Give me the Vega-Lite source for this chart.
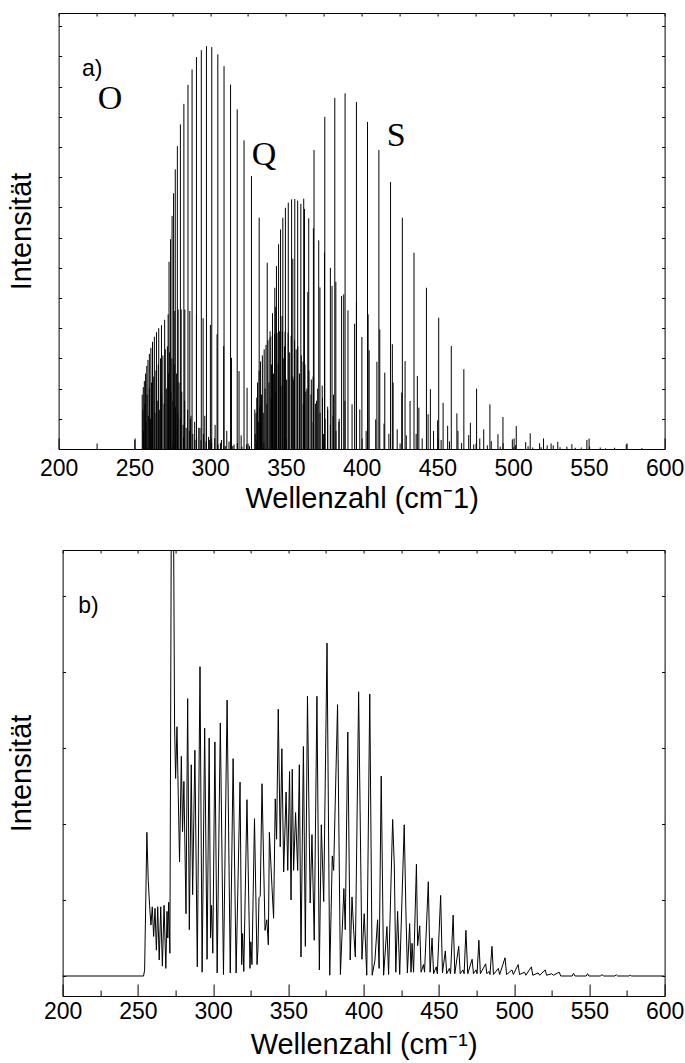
{
"$schema": "https://vega.github.io/schema/vega-lite/v6.json",
"background": "white",
"padding": {"left": 6.6, "top": 12, "right": 0, "bottom": 0},
"bounds": "full",
"spacing": 30,
"datasets": {
"a": [
{"w":250.3,"i":0.3},
{"w":272.9,"i":6.2},{"w":273.9,"i":6.95},{"w":274.9,"i":7.72},{"w":275.9,"i":8.47},{"w":277.0,"i":9.26},{"w":278.4,"i":10.03},{"w":280.4,"i":10.75},{"w":282.7,"i":11.43},{"w":285.4,"i":12.06},{"w":288.1,"i":12.57},{"w":291.0,"i":12.98},{"w":294.2,"i":13.21},{"w":297.6,"i":13.34},{"w":301.1,"i":13.31},{"w":305.1,"i":13.07},{"w":309.2,"i":12.68},{"w":313.5,"i":12.07},{"w":317.9,"i":11.25},{"w":322.4,"i":10.22},{"w":327.3,"i":9.04},{"w":332.4,"i":7.66},{"w":337.7,"i":6.17},{"w":343.3,"i":4.7},{"w":349.1,"i":3.4},{"w":355.2,"i":2.3},{"w":361.5,"i":1.5},{"w":368.0,"i":0.9},{"w":374.8,"i":0.5},
{"w":255.2,"i":1.8},{"w":255.9,"i":2.05},{"w":256.6,"i":2.25},{"w":257.4,"i":2.5},{"w":258.2,"i":2.75},{"w":259.0,"i":2.95},{"w":259.9,"i":3.15},{"w":260.9,"i":3.35},{"w":262.0,"i":3.55},{"w":263.2,"i":3.72},{"w":264.6,"i":3.87},{"w":266.1,"i":4.0},{"w":267.9,"i":4.1},{"w":270.0,"i":4.28},
{"w":272.3,"i":4.46},{"w":276.7,"i":4.57},{"w":278.9,"i":4.62},{"w":280.9,"i":4.62},{"w":283.3,"i":4.62},{"w":286.6,"i":4.57},{"w":291.0,"i":4.46},{"w":295.4,"i":4.33},{"w":300.2,"i":4.11},{"w":304.6,"i":3.8},{"w":309.0,"i":3.41},{"w":314.1,"i":3.02},{"w":319.1,"i":2.58},{"w":324.4,"i":2.03},{"w":329.5,"i":1.31},
{"w":255.6,"i":1.3},{"w":256.1,"i":0.6},{"w":256.9,"i":1.5},{"w":257.7,"i":0.9},{"w":258.4,"i":1.8},{"w":259.2,"i":1.1},{"w":259.9,"i":2.0},{"w":260.6,"i":1.0},{"w":261.3,"i":2.2},{"w":262.0,"i":1.4},{"w":262.8,"i":2.4},{"w":263.6,"i":1.2},{"w":264.3,"i":2.6},{"w":265.1,"i":1.6},{"w":265.8,"i":2.8},{"w":266.5,"i":1.3},{"w":267.3,"i":3.0},{"w":268.0,"i":1.8},{"w":268.8,"i":3.1},{"w":269.6,"i":1.5},{"w":270.4,"i":3.3},{"w":271.1,"i":2.0},{"w":271.8,"i":3.4},{"w":272.6,"i":2.5},{"w":273.3,"i":3.2},{"w":274.1,"i":1.9},{"w":274.8,"i":3.0},{"w":275.5,"i":1.6},{"w":276.3,"i":2.8},{"w":277.1,"i":1.4},{"w":277.9,"i":2.5},{"w":278.7,"i":1.2},{"w":279.5,"i":2.2},{"w":280.4,"i":1.0},{"w":281.3,"i":1.9},{"w":282.2,"i":0.8},{"w":283.2,"i":1.6},{"w":284.2,"i":0.7},{"w":285.2,"i":1.3},{"w":286.3,"i":0.6},{"w":287.4,"i":1.1},{"w":288.6,"i":0.5},{"w":289.8,"i":0.9},{"w":291.1,"i":0.4},{"w":292.5,"i":0.7},{"w":294.0,"i":0.3},{"w":295.6,"i":0.5},{"w":297.3,"i":0.25},{"w":299.0,"i":0.4},{"w":301.0,"i":0.2},{"w":303.0,"i":0.35},{"w":305.2,"i":0.15},{"w":307.5,"i":0.3},{"w":310.0,"i":0.1},{"w":312.5,"i":0.25},{"w":315.0,"i":0.1},{"w":318.0,"i":0.2},{"w":321.0,"i":0.08},{"w":324.0,"i":0.15},
{"w":282.5,"i":0.4},{"w":287.0,"i":1.0},{"w":290.0,"i":0.3},{"w":293.3,"i":0.7},{"w":296.5,"i":1.1},{"w":299.5,"i":0.3},{"w":303.3,"i":0.8},{"w":306.8,"i":0.2},{"w":311.0,"i":0.6},{"w":315.8,"i":0.15},{"w":320.5,"i":0.45},{"w":326.0,"i":0.1},{"w":330.9,"i":0.3},{"w":335.5,"i":0.2},
{"w":329.8,"i":0.5},{"w":330.3,"i":1.2},{"w":330.8,"i":1.7},{"w":331.3,"i":2.2},{"w":331.8,"i":0.9},{"w":332.3,"i":2.6},{"w":332.8,"i":1.4},{"w":333.3,"i":2.9},{"w":333.9,"i":1.8},{"w":334.5,"i":3.1},{"w":335.1,"i":1.2},{"w":335.7,"i":3.3},{"w":336.3,"i":2.0},{"w":336.9,"i":3.45},{"w":337.5,"i":1.5},{"w":338.2,"i":3.6},{"w":338.9,"i":2.2},{"w":339.6,"i":3.7},{"w":340.3,"i":1.7},{"w":341.0,"i":3.75},{"w":341.8,"i":2.5},{"w":342.6,"i":3.8},{"w":343.4,"i":1.9},{"w":344.2,"i":3.85},{"w":345.0,"i":2.8},{"w":345.9,"i":3.9},{"w":346.8,"i":2.1},{"w":347.7,"i":3.9},{"w":348.6,"i":3.0},{"w":349.5,"i":3.88},{"w":350.5,"i":2.3},{"w":351.5,"i":3.85},{"w":352.5,"i":3.2},{"w":353.5,"i":3.75},{"w":354.6,"i":2.4},{"w":355.7,"i":3.6},{"w":356.8,"i":3.3},{"w":357.9,"i":3.4},{"w":359.0,"i":2.5},{"w":360.2,"i":3.1},{"w":361.4,"i":2.9},{"w":362.6,"i":2.8},{"w":363.9,"i":2.0},{"w":365.2,"i":2.6},{"w":366.6,"i":1.8},{"w":368.0,"i":2.4},{"w":369.5,"i":1.5},{"w":371.0,"i":2.0},{"w":372.6,"i":1.2},{"w":374.2,"i":1.7},{"w":375.9,"i":1.0},{"w":377.6,"i":1.4},{"w":379.4,"i":0.8},{"w":381.2,"i":1.1},{"w":383.1,"i":0.6},{"w":385.0,"i":0.9},
{"w":339.6,"i":3.9},{"w":341.2,"i":4.5},{"w":342.7,"i":5.34},{"w":343.8,"i":6.06},{"w":345.2,"i":6.78},{"w":346.5,"i":7.27},{"w":348.0,"i":7.66},{"w":349.7,"i":7.99},{"w":351.6,"i":8.16},{"w":353.8,"i":8.27},{"w":355.9,"i":8.28},{"w":357.8,"i":8.23},{"w":359.9,"i":8.12},{"w":362.3,"i":7.95},{"w":365.1,"i":7.64},{"w":368.2,"i":7.31},{"w":371.7,"i":6.91},{"w":375.5,"i":6.5},{"w":379.4,"i":6.0},{"w":383.0,"i":5.54},{"w":386.8,"i":5.07},{"w":391.0,"i":4.59},{"w":395.4,"i":4.15},{"w":400.2,"i":3.71},{"w":405.0,"i":3.27},{"w":410.1,"i":2.89},{"w":415.3,"i":2.53},{"w":420.8,"i":2.2},{"w":426.5,"i":1.87},{"w":432.0,"i":1.59},{"w":437.8,"i":1.37},{"w":443.9,"i":1.15},{"w":450.2,"i":0.95},{"w":456.8,"i":0.77},{"w":463.6,"i":0.6},{"w":470.7,"i":0.46},{"w":478.0,"i":0.35},{"w":485.6,"i":0.26},{"w":493.4,"i":0.19},{"w":501.5,"i":0.13},{"w":509.9,"i":0.09},{"w":518.5,"i":0.06},
{"w":333.5,"i":1.5},{"w":340.5,"i":2.8},{"w":347.5,"i":4.4},{"w":354.6,"i":6.3},{"w":361.8,"i":8.29},{"w":368.6,"i":9.9},{"w":375.7,"i":11.0},{"w":382.3,"i":11.63},{"w":389.1,"i":11.78},{"w":396.6,"i":11.49},{"w":403.9,"i":10.83},{"w":411.4,"i":9.9},{"w":419.1,"i":8.84},{"w":426.9,"i":7.66},{"w":434.6,"i":6.5},{"w":442.8,"i":5.34},{"w":450.9,"i":4.35},{"w":459.2,"i":3.41},{"w":467.5,"i":2.64},{"w":475.9,"i":2.0},{"w":484.7,"i":1.48},{"w":493.3,"i":1.06},{"w":502.1,"i":0.76},{"w":511.3,"i":0.52},{"w":520.1,"i":0.35},{"w":529.5,"i":0.24},{"w":538.8,"i":0.16},{"w":548.7,"i":0.3},{"w":557.5,"i":0.05},{"w":567.0,"i":0.04},{"w":574.7,"i":0.15},{"w":585.0,"i":0.03},
{"w":364.5,"i":5.2},{"w":372.5,"i":5.35},{"w":380.5,"i":5.4},{"w":388.2,"i":5.12},{"w":396.6,"i":4.85},{"w":404.3,"i":4.46},{"w":412.0,"i":3.96},{"w":420.3,"i":3.47},{"w":428.7,"i":2.91},{"w":436.8,"i":2.42},{"w":445.4,"i":1.98},{"w":453.8,"i":1.53},{"w":462.9,"i":1.18},{"w":471.8,"i":0.87},{"w":480.6,"i":0.65},{"w":490.0,"i":0.49},{"w":499.5,"i":0.32},{"w":508.3,"i":0.23},{"w":517.5,"i":0.19},{"w":526.5,"i":0.12},{"w":535.5,"i":0.08},{"w":545.0,"i":0.05},
{"w":363.2,"i":1.9},{"w":366.8,"i":2.3},{"w":370.3,"i":1.6},{"w":374.0,"i":2.1},{"w":377.6,"i":1.3},{"w":381.5,"i":1.8},{"w":385.2,"i":1.0},{"w":389.0,"i":1.6},{"w":393.7,"i":1.48},{"w":398.8,"i":1.31},{"w":403.0,"i":0.6},{"w":409.3,"i":0.98},{"w":414.8,"i":0.84},{"w":418.0,"i":0.5},{"w":423.5,"i":0.65},{"w":429.5,"i":0.45},{"w":436.0,"i":0.5},{"w":440.0,"i":0.35},{"w":447.5,"i":0.6},{"w":452.5,"i":0.3},{"w":458.0,"i":0.25},{"w":466.0,"i":0.2},{"w":474.0,"i":0.15},{"w":483.0,"i":0.12},{"w":491.5,"i":0.08},{"w":500.5,"i":0.06},{"w":513.0,"i":0.05},{"w":522.5,"i":0.12},{"w":531.0,"i":0.06},{"w":541.0,"i":0.04},{"w":550.5,"i":0.08},{"w":561.0,"i":0.02}
],
"b": [
{"w":200,"i":0},{"w":253.8,"i":0},{"w":254.5,"i":0.08},{"w":256.0,"i":1.89},{"w":256.9,"i":1.26},{"w":257.8,"i":0.93},{"w":258.7,"i":0.67},{"w":259.6,"i":0.91},{"w":260.5,"i":0.52},{"w":261.4,"i":0.89},{"w":262.3,"i":0.34},{"w":263.2,"i":0.91},{"w":264.2,"i":0.21},{"w":265.2,"i":0.91},{"w":266.3,"i":0.13},{"w":267.4,"i":0.93},{"w":268.6,"i":0.1},{"w":269.4,"i":0.85},{"w":269.9,"i":0.5},{"w":270.5,"i":0.97},{"w":271.3,"i":0.3},{"w":272.3,"i":6.5},{"w":273.6,"i":6.5},{"w":274.4,"i":3.3},{"w":275.1,"i":2.6},{"w":276.0,"i":3.28},{"w":276.6,"i":2.64},{"w":277.7,"i":1.5},{"w":278.9,"i":2.89},{"w":279.7,"i":1.9},{"w":280.6,"i":2.56},{"w":282.0,"i":0.82},{"w":283.1,"i":3.65},{"w":284.2,"i":0.61},{"w":285.5,"i":2.78},{"w":286.4,"i":1.07},{"w":287.9,"i":2.97},{"w":289.5,"i":0.12},{"w":291.3,"i":4.07},{"w":292.7,"i":0.05},{"w":294.4,"i":3.26},{"w":296.0,"i":0.22},{"w":297.4,"i":3.13},{"w":298.3,"i":0.5},{"w":299.0,"i":0.93},{"w":299.8,"i":0.3},{"w":301.2,"i":3.08},{"w":302.7,"i":0.04},{"w":304.8,"i":3.33},{"w":306.9,"i":0.02},{"w":309.3,"i":3.63},{"w":311.4,"i":0.04},{"w":313.3,"i":2.86},{"w":315.3,"i":0.04},{"w":317.9,"i":2.55},{"w":319.0,"i":0.15},{"w":319.6,"i":0.56},{"w":320.4,"i":0.06},{"w":322.5,"i":2.32},{"w":324.5,"i":0.1},{"w":325.1,"i":0.45},{"w":325.8,"i":0.15},{"w":327.5,"i":2.07},{"w":329.2,"i":0.15},{"w":329.8,"i":0.35},{"w":330.5,"i":1.03},{"w":331.3,"i":1.05},{"w":332.5,"i":2.53},{"w":334.5,"i":0.6},{"w":335.7,"i":0.74},{"w":336.7,"i":0.41},{"w":337.4,"i":1.89},{"w":339.1,"i":1.18},{"w":340.2,"i":0.76},{"w":341.3,"i":2.33},{"w":342.2,"i":1.8},{"w":343.3,"i":3.51},{"w":344.6,"i":1.7},{"w":345.7,"i":2.99},{"w":346.9,"i":1.37},{"w":348.5,"i":2.42},{"w":349.6,"i":1.39},{"w":350.8,"i":2.69},{"w":351.8,"i":1.0},{"w":352.6,"i":2.72},{"w":353.5,"i":1.39},{"w":354.8,"i":2.15},{"w":356.2,"i":1.39},{"w":357.3,"i":2.78},{"w":358.4,"i":0.25},{"w":360.0,"i":3.02},{"w":361.3,"i":0.39},{"w":362.7,"i":3.68},{"w":364.5,"i":0.96},{"w":365.7,"i":1.86},{"w":367.2,"i":0.47},{"w":369.0,"i":3.68},{"w":370.6,"i":0.08},{"w":371.9,"i":1.99},{"w":373.5,"i":0.98},{"w":375.7,"i":4.38},{"w":377.5,"i":0.01},{"w":379.2,"i":1.58},{"w":380.1,"i":1.39},{"w":382.7,"i":3.57},{"w":384.6,"i":0.02},{"w":386.9,"i":1.15},{"w":387.8,"i":0.61},{"w":389.5,"i":3.21},{"w":391.1,"i":0.21},{"w":392.3,"i":1.04},{"w":393.4,"i":0.6},{"w":394.5,"i":0.25},{"w":396.7,"i":3.74},{"w":398.9,"i":0.22},{"w":400.4,"i":0.82},{"w":402.1,"i":0.01},{"w":404.1,"i":3.71},{"w":405.7,"i":0.01},{"w":407.5,"i":0.2},{"w":409.3,"i":0.74},{"w":410.3,"i":0.1},{"w":411.7,"i":2.63},{"w":413.3,"i":0.01},{"w":415.5,"i":0.65},{"w":416.6,"i":0.02},{"w":419.3,"i":2.06},{"w":420.4,"i":1.46},{"w":421.4,"i":0.05},{"w":422.6,"i":0.85},{"w":424.0,"i":0.02},{"w":427.0,"i":1.99},{"w":428.1,"i":0.87},{"w":429.1,"i":0.04},{"w":430.6,"i":0.69},{"w":431.5,"i":0.05},{"w":432.2,"i":0.43},{"w":433.2,"i":0.05},{"w":435.1,"i":1.47},{"w":435.9,"i":0.4},{"w":437.3,"i":0.66},{"w":438.2,"i":0.05},{"w":439.8,"i":0.15},{"w":440.5,"i":0.05},{"w":443.0,"i":1.24},{"w":444.2,"i":0.05},{"w":445.5,"i":0.5},{"w":446.5,"i":0.03},{"w":448.3,"i":0.12},{"w":449.0,"i":0.03},{"w":451.2,"i":1.06},{"w":452.4,"i":0.04},{"w":454.3,"i":0.33},{"w":455.2,"i":0.03},{"w":457.0,"i":0.1},{"w":457.8,"i":0.03},{"w":459.5,"i":0.8},{"w":460.6,"i":0.03},{"w":463.2,"i":0.39},{"w":464.2,"i":0.03},{"w":466.0,"i":0.08},{"w":466.8,"i":0.03},{"w":468.0,"i":0.6},{"w":469.2,"i":0.03},{"w":472.1,"i":0.22},{"w":473.0,"i":0.03},{"w":474.7,"i":0.08},{"w":475.4,"i":0.03},{"w":476.6,"i":0.47},{"w":477.6,"i":0.03},{"w":481.1,"i":0.16},{"w":481.9,"i":0.03},{"w":483.3,"i":0.06},{"w":484.0,"i":0.02},{"w":485.3,"i":0.39},{"w":486.3,"i":0.02},{"w":489.5,"i":0.1},{"w":490.4,"i":0.02},{"w":494.0,"i":0.24},{"w":495.0,"i":0.02},{"w":498.6,"i":0.08},{"w":499.5,"i":0.02},{"w":502.7,"i":0.15},{"w":503.6,"i":0.02},{"w":507.0,"i":0.05},{"w":507.8,"i":0.01},{"w":511.5,"i":0.12},{"w":512.4,"i":0.01},{"w":516.0,"i":0.04},{"w":517.0,"i":0.01},{"w":520.7,"i":0.08},{"w":521.6,"i":0.01},{"w":525.0,"i":0.03},{"w":526.0,"i":0.01},{"w":530.0,"i":0.05},{"w":531.0,"i":0},{"w":538.6,"i":0},{"w":539.5,"i":0.035},{"w":540.5,"i":0},{"w":547.9,"i":0},{"w":548.8,"i":0.03},{"w":549.7,"i":0},{"w":557.5,"i":0},{"w":558.4,"i":0.02},{"w":559.3,"i":0},{"w":567.0,"i":0},{"w":567.9,"i":0.015},{"w":568.8,"i":0},{"w":576.3,"i":0},{"w":577.2,"i":0.01},{"w":578.1,"i":0},{"w":600,"i":0}
]
},
"vconcat": [
{"hconcat": [
{
"width": 606, "height": 436,
"data": {"name": "a"},
"resolve": {"axis": {"x": "independent", "y": "independent"}},
"layer": [
{"mark": {"type": "rule", "color": "black", "strokeWidth": 1},
 "encoding": {
  "x": {"field": "w", "type": "quantitative", "scale": {"domain": [200, 600], "nice": false, "zero": false},
        "axis": {"orient": "bottom", "values": [200,250,300,350,400,450,500,550,600], "ticks": false, "labelPadding": 8, "labelFontSize": 23, "labelFlush": false, "labelOverlap": false, "title": "Wellenzahl (cm⁻1)", "titleFontSize": 29, "titlePadding": 4}},
  "y": {"field": "i", "type": "quantitative", "scale": {"domain": [0, 14.44], "nice": false, "zero": false},
        "axis": {"orient": "left", "values": [0,1,2,3,4,5,6,7,8,9,10,11,12,13,14], "tickSize": -3, "labels": false, "title": "Intensität", "titleFontSize": 29, "titlePadding": 22}},
  "y2": {"datum": 0}
 }},
{"data": {"values": [{}]}, "mark": {"type": "text", "text": ""},
 "encoding": {
  "x": {"datum": 200, "type": "quantitative", "scale": {"domain": [200, 600], "nice": false, "zero": false},
        "axis": {"orient": "bottom", "values": [200,250,300,350,400,450,500,550,600], "tickSize": -11, "labels": false, "title": null}},
  "y": {"datum": 0, "type": "quantitative", "scale": {"domain": [0, 14.44], "nice": false, "zero": false},
        "axis": {"orient": "right", "values": [0,1,2,3,4,5,6,7,8,9,10,11,12,13,14], "tickSize": -3, "labels": false, "title": null}}
 }},
{"data": {"values": [{}]}, "mark": {"type": "text", "text": ""},
 "encoding": {
  "x": {"datum": 200, "type": "quantitative", "scale": {"domain": [200, 600], "nice": false, "zero": false},
        "axis": {"orient": "bottom", "values": [225,275,325,375,425,475,525,575], "tickSize": -6, "labels": false, "title": null}},
  "y": {"datum": 0, "type": "quantitative", "scale": {"domain": [0, 14.44], "nice": false, "zero": false}, "axis": null}
 }},
{"data": {"values": [{}]}, "mark": {"type": "text", "text": ""},
 "encoding": {
  "x": {"datum": 200, "type": "quantitative", "scale": {"domain": [200, 600], "nice": false, "zero": false},
        "axis": {"orient": "top", "values": [200,225,250,275,300,325,350,375,400,425,450,475,500,525,550,575,600], "tickSize": -3, "labels": false, "title": null}},
  "y": {"datum": 0, "type": "quantitative", "scale": {"domain": [0, 14.44], "nice": false, "zero": false}, "axis": null}
 }},
{"data": {"values": [{}]}, "mark": {"type": "text", "text": "a)", "font": "Liberation Sans", "fontSize": 23, "align": "left", "baseline": "alphabetic", "color": "black"},
 "encoding": {
  "x": {"datum": 215.4, "type": "quantitative", "scale": {"domain": [200, 600], "nice": false, "zero": false}, "axis": null},
  "y": {"datum": 12.37, "type": "quantitative", "scale": {"domain": [0, 14.44], "nice": false, "zero": false}, "axis": null}
 }},
{"data": {"values": [{}]}, "mark": {"type": "text", "text": "O", "font": "Liberation Serif", "fontSize": 34, "align": "left", "baseline": "alphabetic", "color": "black"},
 "encoding": {
  "x": {"datum": 225.9, "type": "quantitative", "scale": {"domain": [200, 600], "nice": false, "zero": false}, "axis": null},
  "y": {"datum": 11.27, "type": "quantitative", "scale": {"domain": [0, 14.44], "nice": false, "zero": false}, "axis": null}
 }},
{"data": {"values": [{}]}, "mark": {"type": "text", "text": "Q", "font": "Liberation Serif", "fontSize": 34, "align": "left", "baseline": "alphabetic", "color": "black"},
 "encoding": {
  "x": {"datum": 327.5, "type": "quantitative", "scale": {"domain": [200, 600], "nice": false, "zero": false}, "axis": null},
  "y": {"datum": 9.42, "type": "quantitative", "scale": {"domain": [0, 14.44], "nice": false, "zero": false}, "axis": null}
 }},
{"data": {"values": [{}]}, "mark": {"type": "text", "text": "S", "font": "Liberation Serif", "fontSize": 34, "align": "left", "baseline": "alphabetic", "color": "black"},
 "encoding": {
  "x": {"datum": 416.6, "type": "quantitative", "scale": {"domain": [200, 600], "nice": false, "zero": false}, "axis": null},
  "y": {"datum": 10.02, "type": "quantitative", "scale": {"domain": [0, 14.44], "nice": false, "zero": false}, "axis": null}
 }}
]
}
]},
{"hconcat": [
{
"width": 3.6, "height": 1,
"data": {"values": [{}]},
"mark": {"type": "text", "text": ""},
"view": {"stroke": null}
},
{
"width": 602, "height": 446,
"data": {"name": "b"},
"resolve": {"axis": {"x": "independent", "y": "independent"}},
"layer": [
{"mark": {"type": "line", "color": "black", "strokeWidth": 1, "clip": true},
 "encoding": {
  "x": {"field": "w", "type": "quantitative", "scale": {"domain": [200, 600], "nice": false, "zero": false},
        "axis": {"orient": "bottom", "values": [200,250,300,350,400,450,500,550,600], "ticks": false, "labelPadding": 5, "labelFontSize": 23, "labelFlush": false, "labelOverlap": false, "title": "Wellenzahl (cm⁻¹)", "titleFontSize": 29, "titlePadding": 7}},
  "y": {"field": "i", "type": "quantitative", "scale": {"domain": [-0.263, 5.605], "nice": false, "zero": false},
        "axis": {"orient": "left", "values": [0,1,2,3,4,5], "tickSize": -3, "labels": false, "title": "Intensität", "titleFontSize": 29, "titlePadding": 25.6}}
 }},
{"data": {"values": [{}]}, "mark": {"type": "text", "text": ""},
 "encoding": {
  "x": {"datum": 200, "type": "quantitative", "scale": {"domain": [200, 600], "nice": false, "zero": false},
        "axis": {"orient": "bottom", "values": [200,250,300,350,400,450,500,550,600], "tickSize": -12, "labels": false, "title": null}},
  "y": {"datum": 0, "type": "quantitative", "scale": {"domain": [-0.263, 5.605], "nice": false, "zero": false},
        "axis": {"orient": "right", "values": [0,1,2,3,4,5], "tickSize": -3, "labels": false, "title": null}}
 }},
{"data": {"values": [{}]}, "mark": {"type": "text", "text": ""},
 "encoding": {
  "x": {"datum": 200, "type": "quantitative", "scale": {"domain": [200, 600], "nice": false, "zero": false},
        "axis": {"orient": "bottom", "values": [225,275,325,375,425,475,525,575], "tickSize": -6, "labels": false, "title": null}},
  "y": {"datum": 0, "type": "quantitative", "scale": {"domain": [-0.263, 5.605], "nice": false, "zero": false}, "axis": null}
 }},
{"data": {"values": [{}]}, "mark": {"type": "text", "text": ""},
 "encoding": {
  "x": {"datum": 200, "type": "quantitative", "scale": {"domain": [200, 600], "nice": false, "zero": false},
        "axis": {"orient": "top", "values": [200,225,250,275,300,325,350,375,400,425,450,475,500,525,550,575,600], "tickSize": -3, "labels": false, "title": null}},
  "y": {"datum": 0, "type": "quantitative", "scale": {"domain": [-0.263, 5.605], "nice": false, "zero": false}, "axis": null}
 }},
{"data": {"values": [{}]}, "mark": {"type": "text", "text": "b)", "font": "Liberation Sans", "fontSize": 23, "align": "left", "baseline": "alphabetic", "color": "black"},
 "encoding": {
  "x": {"datum": 210.4, "type": "quantitative", "scale": {"domain": [200, 600], "nice": false, "zero": false}, "axis": null},
  "y": {"datum": 4.78, "type": "quantitative", "scale": {"domain": [-0.263, 5.605], "nice": false, "zero": false}, "axis": null}
 }}
]
}
], "spacing": 0, "bounds": "flush"}
],
"config": {
 "view": {"stroke": "black", "strokeWidth": 1},
 "axis": {"labelFont": "Liberation Sans", "titleFont": "Liberation Sans", "labelColor": "black", "titleColor": "black", "tickColor": "black", "tickWidth": 1, "titleFontWeight": "normal", "grid": false, "domain": false}
}
}
